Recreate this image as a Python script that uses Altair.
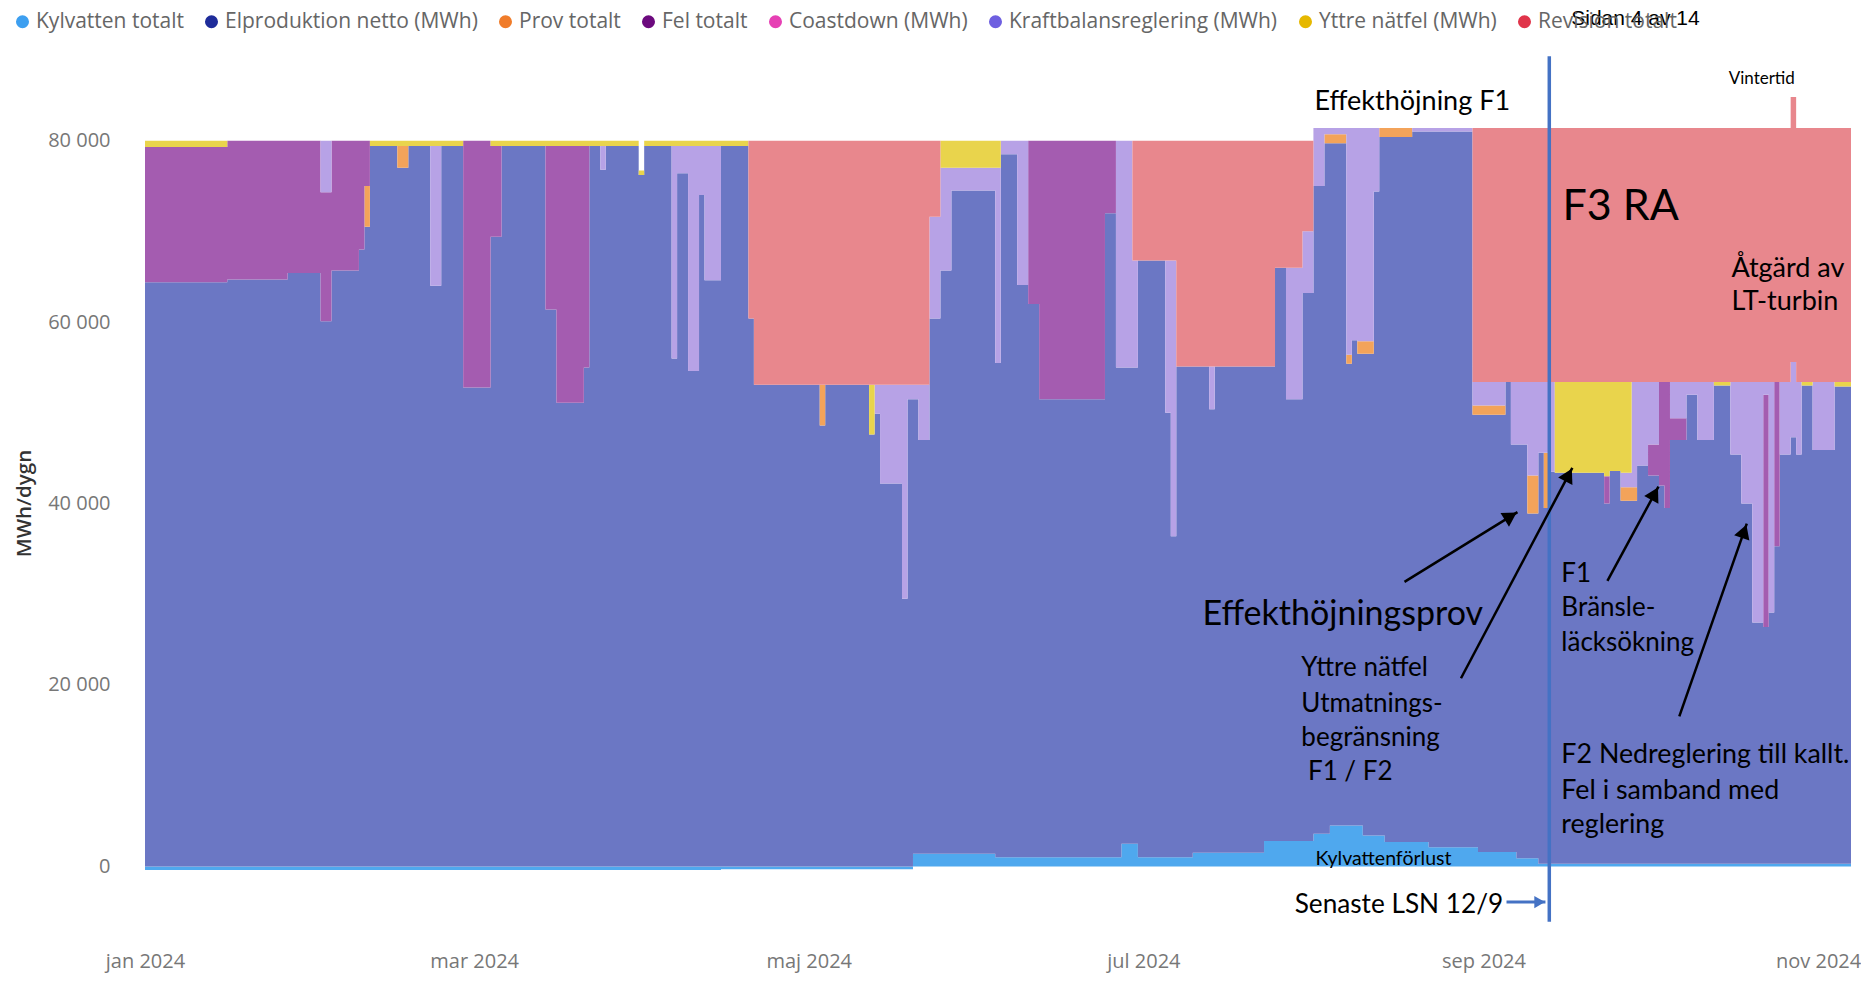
import altair as alt
import pandas as pd

# ---------------- data (MWh/dygn, step values starting at each date) ----------------
dates = [
    "2024-01-01", "2024-01-16", "2024-01-27", "2024-02-02", "2024-02-04", "2024-02-09",
    "2024-02-10", "2024-02-11", "2024-02-16", "2024-02-18", "2024-02-22", "2024-02-24",
    "2024-02-28", "2024-03-04", "2024-03-06", "2024-03-14", "2024-03-16", "2024-03-21",
    "2024-03-22", "2024-03-24", "2024-03-25", "2024-03-31", "2024-04-01", "2024-04-06",
    "2024-04-07", "2024-04-09", "2024-04-11", "2024-04-12", "2024-04-15", "2024-04-20",
    "2024-04-21", "2024-05-03", "2024-05-04", "2024-05-12", "2024-05-13", "2024-05-14",
    "2024-05-18", "2024-05-19", "2024-05-20", "2024-05-21", "2024-05-23", "2024-05-25",
    "2024-05-27", "2024-06-04", "2024-06-05", "2024-06-08", "2024-06-10", "2024-06-12",
    "2024-06-24", "2024-06-26", "2024-06-27", "2024-06-29", "2024-06-30", "2024-07-05",
    "2024-07-06", "2024-07-07", "2024-07-10", "2024-07-13", "2024-07-14", "2024-07-23",
    "2024-07-25", "2024-07-27", "2024-07-30", "2024-08-01", "2024-08-03", "2024-08-04",
    "2024-08-07", "2024-08-08", "2024-08-09", "2024-08-10", "2024-08-12", "2024-08-13",
    "2024-08-14", "2024-08-19", "2024-08-22", "2024-08-30", "2024-08-31", "2024-09-05",
    "2024-09-06", "2024-09-07", "2024-09-09", "2024-09-11", "2024-09-12", "2024-09-13",
    "2024-09-14", "2024-09-23", "2024-09-24", "2024-09-26", "2024-09-28", "2024-09-29",
    "2024-10-01", "2024-10-03", "2024-10-04", "2024-10-05", "2024-10-08", "2024-10-10",
    "2024-10-13", "2024-10-16", "2024-10-18", "2024-10-20", "2024-10-22", "2024-10-23",
    "2024-10-24", "2024-10-25", "2024-10-27", "2024-10-28", "2024-10-29", "2024-10-31",
    "2024-11-04", "2024-11-07",
]

kylvatten = [
    -400, -400, -400, -400, -400, -400, -400, -400, -400, -400, -400, -400,
    -400, -400, -400, -400, -400, -400, -400, -400, -400, -400, -400, -400,
    -400, -400, -400, -400, -300, -300, -300, -300, -300, -300, -300, -300,
    -300, -300, 1400, 1400, 1400, 1400, 1400, 1000, 1000, 1000, 1000, 1000,
    1000, 1000, 2500, 2500, 1000, 1000, 1000, 1000, 1500, 1500, 1500, 2800,
    2800, 2800, 2800, 3600, 3600, 4500, 4500, 4500, 4500, 3400, 3400, 3400,
    2700, 2700, 2100, 2100, 1600, 1600, 1600, 900, 900, 300, 300, 300,
    300, 300, 300, 300, 300, 300, 300, 300, 300, 300, 300, 300,
    300, 300, 300, 300, 300, 300, 300, 300, 300, 300, 300, 300,
    300, 300,
]

elproduktion = [
    64400, 64700, 65400, 60100, 65700, 68000, 70500, 79400, 77000, 79400, 64000, 79400,
    52800, 69400, 79400, 61400, 51100, 55000, 79400, 76800, 79400, 76200, 79400, 56000,
    76400, 54600, 74000, 64600, 79400, 60400, 53100, 48600, 53100, 47600, 49900, 42200,
    29500, 51500, 50100, 45600, 59000, 64300, 73100, 54500, 77500, 63100, 61000, 50500,
    71000, 54000, 52500, 52500, 65800, 49000, 35400, 54100, 53600, 48900, 53600, 52300,
    63200, 48700, 60400, 71400, 76100, 75200, 50900, 53500, 52000, 53100, 71000, 77000,
    77700, 78300, 78900, 47700, 48200, 51800, 44900, 45600, 38000, 45300, 39200, 43200,
    43100, 39700, 43300, 40000, 40000, 43900, 42800, 41700, 39200, 46700, 51700, 46700,
    52700, 45100, 39700, 26600, 26100, 27700, 35000, 45100, 47000, 45100, 52700, 45600,
    52600, 52600,
]

prov = [
    0, 0, 0, 0, 0, 0, 4500, 0, 2400, 0, 0, 0,
    0, 0, 0, 0, 0, 0, 0, 0, 0, 0, 0, 0,
    0, 0, 0, 0, 0, 0, 0, 4500, 0, 0, 0, 0,
    0, 0, 0, 0, 0, 0, 0, 0, 0, 0, 0, 0,
    0, 0, 0, 0, 0, 0, 0, 0, 0, 0, 0, 0,
    0, 0, 0, 0, 1000, 1000, 1000, 0, 1400, 1400, 0, 1000,
    1000, 0, 0, 1000, 1000, 0, 0, 0, 4200, 0, 6100, 0,
    0, 0, 0, 1500, 1500, 0, 0, 0, 0, 0, 0, 0,
    0, 0, 0, 0, 0, 0, 0, 0, 0, 0, 0, 0,
    0, 0,
]

fel = [
    14900, 15300, 14600, 14200, 14300, 12000, 5000, 0, 0, 0, 0, 0,
    27200, 10000, 0, 18000, 28300, 24400, 0, 0, 0, 0, 0, 0,
    0, 0, 0, 0, 0, 0, 0, 0, 0, 0, 0, 0,
    0, 0, 0, 0, 0, 0, 0, 0, 0, 0, 18000, 28500,
    8000, 0, 0, 0, 0, 0, 0, 0, 0, 0, 0, 0,
    0, 0, 0, 0, 0, 0, 0, 0, 0, 0, 0, 0,
    0, 0, 0, 0, 0, 0, 0, 0, 0, 0, 0, 0,
    0, 3000, 0, 0, 0, 0, 3400, 11400, 13900, 2400, 0, 0,
    0, 0, 0, 0, 25600, 0, 18100, 0, 0, 0, 0, 0,
    0, 0,
]

coastdown = [0] * len(dates)

kraftbalans = [
    0, 0, 0, 5700, 0, 0, 0, 0, 0, 0, 15400, 0,
    0, 0, 0, 0, 0, 0, 0, 2600, 0, 0, 0, 23400,
    3000, 24800, 5400, 14800, 0, 0, 0, 0, 0, 0, 3200, 10900,
    23600, 1600, 1600, 6100, 11200, 11300, 2500, 21500, 1500, 15900, 0, 0,
    0, 25000, 25000, 11800, 0, 16800, 30400, 0, 0, 4700, 0, 0,
    0, 14500, 6800, 6400, 700, 700, 25000, 23400, 23500, 23500, 7000, 0,
    0, 400, 400, 2600, 2600, 0, 6900, 6900, 10300, 7800, 7800, 9900,
    0, 0, 0, 1600, 11600, 9200, 6900, 0, 0, 4000, 1400, 6400,
    0, 8000, 13400, 26500, 1400, 25400, 0, 8000, 8300, 8000, 0, 7500,
    0, 0,
]

yttre_natfel = [
    700, 0, 0, 0, 0, 0, 0, 600, 600, 600, 600, 600,
    0, 600, 600, 600, 600, 600, 600, 600, 600, 500, 600, 600,
    600, 600, 600, 600, 600, 0, 0, 0, 0, 5500, 0, 0,
    0, 0, 0, 0, 0, 3000, 3000, 3000, 0, 0, 0, 0,
    0, 0, 0, 0, 0, 0, 0, 0, 0, 0, 0, 0,
    0, 0, 0, 0, 0, 0, 0, 0, 0, 0, 0, 0,
    0, 0, 0, 0, 0, 0, 0, 0, 0, 0, 0, 0,
    10000, 10400, 9800, 10000, 0, 0, 0, 0, 0, 0, 0, 0,
    400, 0, 0, 0, 0, 0, 0, 0, 0, 0, 400, 0,
    500, 500,
]

revision = [
    0, 0, 0, 0, 0, 0, 0, 0, 0, 0, 0, 0,
    0, 0, 0, 0, 0, 0, 0, 0, 0, 0, 0, 0,
    0, 0, 0, 0, 0, 19600, 26900, 26900, 26900, 26900, 26900, 26900,
    26900, 26900, 26900, 26900, 8400, 0, 0, 0, 0, 0, 0, 0,
    0, 0, 0, 13200, 13200, 13200, 13200, 24900, 24900, 24900, 24900, 24900,
    14000, 14000, 10000, 0, 0, 0, 0, 0, 0, 0, 0, 0,
    0, 0, 0, 28000, 28000, 28000, 28000, 28000, 28000, 28000, 28000, 28000,
    28000, 28000, 28000, 28000, 28000, 28000, 28000, 28000, 28000, 28000, 28000, 28000,
    28000, 28000, 28000, 28000, 28000, 28000, 28000, 28000, 29200, 28000, 28000, 28000,
    28000, 28000,
]

series_names = [
    "Kylvatten totalt", "Elproduktion netto (MWh)", "Prov totalt", "Fel totalt",
    "Coastdown (MWh)", "Kraftbalansreglering (MWh)", "Yttre nätfel (MWh)", "Revision totalt",
]
series_values = [kylvatten, elproduktion, prov, fel, coastdown, kraftbalans, yttre_natfel, revision]
legend_colors = ["#3d9ff0", "#1e2c9a", "#f07c2a", "#6c0a7e", "#e640b4", "#6e5fe0", "#e6b800", "#e0344a"]
area_colors = ["#4fa8ee", "#6b77c4", "#f3a35a", "#a45cb0", "#ea8fd0", "#b7a2e6", "#e9d44c", "#e8878d"]

# annotations: (text, day offset from 2024-01-01, value, font size)
notes_left = [
    ("Effekthöjning F1", 213.2, 84300, 27),
    ("F3 RA", 258.4, 72700, 43),
    ("Åtgärd av", 289.2, 65900, 27),
    ("LT-turbin", 289.2, 62250, 27),
    ("Vintertid", 288.7, 86830, 17),
    ("Effekthöjningsprov", 192.8, 27710, 34),
    ("Yttre nätfel", 210.8, 21870, 26),
    ("Utmatnings-", 210.8, 17945, 26),
    ("begränsning", 210.8, 14153, 26),
    ("F1 / F2", 212.0, 10406, 26),
    ("F1", 258.2, 32200, 26),
    ("Bränsle-", 258.2, 28450, 26),
    ("läcksökning", 258.2, 24660, 26),
    ("F2 Nedreglering till kallt.", 258.2, 12250, 26.8),
    ("Fel i samband med", 258.2, 8330, 26.8),
    ("reglering", 258.2, 4530, 26.8),
    ("Kylvattenförlust", 213.4, 780, 19.5),
]
notes_right = [("Senaste LSN 12/9", 247.6, -4255, 26.2)]
page_note = [("Sidan 4 av 14", 260.0, 93400, 21)]

# arrows: start day, start value, tip day, tip value, head angle, head pull-back fraction
black_arrows = [
    (229.6, 31360, 250.2, 39060, 58.3, 0.06),
    (239.9, 20745, 260.2, 43937, 27.8, 0.034),
    (266.6, 31470, 275.9, 41865, 28.4, 0.075),
    (279.7, 16545, 292.0, 37786, 19.3, 0.04),
]
blue_arrows = [(248.2, -3924, 255.3, -3924, 90.0, 0.15)]
lsn_line = [("2024-09-13", 89300, -6100)]

# ---------------- build tables ----------------
start = pd.Timestamp("2024-01-01")


def day_iso(d):
    return (start + pd.Timedelta(days=d)).strftime("%Y-%m-%dT%H:%M:%SZ")


rows = []
for i, (name, vals) in enumerate(zip(series_names, series_values)):
    for d, v in zip(dates, vals):
        rows.append({"date": d, "serie": name, "ord": i, "value": v})
df = pd.DataFrame(rows)

legend_df = pd.DataFrame({"serie": series_names, "date": dates[0], "value": 0})


def notes_df(lst):
    return pd.DataFrame([{"text": t, "date": day_iso(d), "value": v, "fs": fs} for t, d, v, fs in lst])


xscale = alt.Scale(type="utc", domain=[alt.DateTime(year=2024, month=1, date=1, utc=True),
                                       alt.DateTime(year=2024, month=11, date=7, utc=True)])
yscale = alt.Scale(domain=[-8000, 89000], nice=False, zero=False)

month_expr = ("['jan','feb','mar','apr','maj','jun','jul','aug','sep','okt','nov','dec']"
              "[utcmonth(datum.value)] + ' ' + utcyear(datum.value)")

xaxis = alt.Axis(
    values=[alt.DateTime(year=2024, month=m, date=1, utc=True) for m in (1, 3, 5, 7, 9, 11)],
    labelExpr=month_expr, grid=False, domain=False, ticks=False, labelFlush=False,
    labelFont="Open Sans", labelFontSize=20, labelColor="#777777", labelPadding=12,
    title="",
)
yaxis = alt.Axis(
    values=[0, 20000, 40000, 60000, 80000],
    labelExpr="replace(format(datum.value, ','), ',', ' ')",
    grid=False, domain=False, ticks=False,
    labelFont="Open Sans", labelFontSize=20, labelColor="#777777", labelPadding=35,
    title="MWh/dygn",
    titleFont="Open Sans", titleFontSize=20.5, titleFontWeight=600, titleColor="#333333",
    titleAngle=270, titleX=-121, titleY=444, titleAlign="center", titleBaseline="middle",
)


def X(field="date"):
    return alt.X(f"{field}:T", scale=xscale, axis=xaxis, title="")


def Y(field="value", **kw):
    return alt.Y(f"{field}:Q", scale=yscale, axis=yaxis, title="MWh/dygn", **kw)


areas = alt.Chart(df).mark_area(interpolate="step-after").encode(
    x=X(),
    y=Y(stack="zero"),
    color=alt.Color("serie:N", scale=alt.Scale(domain=series_names, range=area_colors), legend=None),
    order=alt.Order("ord:Q", sort="ascending"),
)

legend_layer = alt.Chart(legend_df).mark_circle(opacity=0).encode(
    x=X(),
    y=Y(),
    color=alt.Color(
        "serie:N", title=None,
        scale=alt.Scale(domain=series_names, range=legend_colors),
        legend=alt.Legend(
            orient="none", legendX=-133, legendY=-48, direction="horizontal", columns=8,
            symbolType="circle", symbolSize=170, symbolOpacity=1, symbolStrokeWidth=0,
            labelFont="Open Sans", labelFontSize=21, labelColor="#666666", labelLimit=400,
            columnPadding=17, labelOffset=3, padding=0,
        ),
    ),
)

lsn_df = pd.DataFrame([{"date": d, "value": v1, "value2": v2} for d, v1, v2 in lsn_line])
lsn_rule = alt.Chart(lsn_df).mark_rule(color="#4472c4", strokeWidth=3.5).encode(
    x=X(), y=Y(), y2="value2:Q",
)


def arrow_layers(lst, color, width, head_size):
    lines = pd.DataFrame([{"date": day_iso(d1), "value": v1, "date2": day_iso(d2), "value2": v2}
                          for d1, v1, d2, v2, ang, f in lst])
    heads = pd.DataFrame([{"date": day_iso(d2 - f * (d2 - d1)), "value": v2 - f * (v2 - v1), "ang": ang}
                          for d1, v1, d2, v2, ang, f in lst])
    line = alt.Chart(lines).mark_rule(color=color, strokeWidth=width).encode(
        x=X(), x2="date2:T", y=Y(), y2="value2:Q",
    )
    head = alt.Chart(heads).mark_point(shape="triangle-up", filled=True, color=color, opacity=1,
                                       size=head_size, strokeWidth=0).encode(
        x=X(), y=Y(),
        angle=alt.Angle("ang:Q", scale=alt.Scale(domain=[0, 360], range=[0, 360])),
    )
    return [line, head]


def text_layer(lst, align, font, color="black"):
    return alt.Chart(notes_df(lst)).mark_text(align=align, baseline="middle", font=font,
                                              color=color).encode(
        x=X(), y=Y(),
        text="text:N",
        size=alt.Size("fs:Q", scale=None),
    )


layers = [areas, legend_layer, lsn_rule]
layers += arrow_layers(black_arrows, "black", 2.5, 260)
layers += arrow_layers(blue_arrows, "#4472c4", 3, 150)
layers += [
    text_layer(notes_left, "left", "Lato"),
    text_layer(notes_right, "right", "Lato"),
    text_layer(page_note, "left", "Liberation Sans"),
]

chart = alt.layer(*layers).resolve_scale(color="independent").properties(
    width=1706, height=880,
    padding={"left": 137, "top": 51, "right": 10, "bottom": 39},
    autosize=alt.AutoSizeParams(type="none"),
    background="white",
).configure_view(strokeWidth=0)

chart.save("out.html", embed_options={"renderer": "svg", "actions": False})
